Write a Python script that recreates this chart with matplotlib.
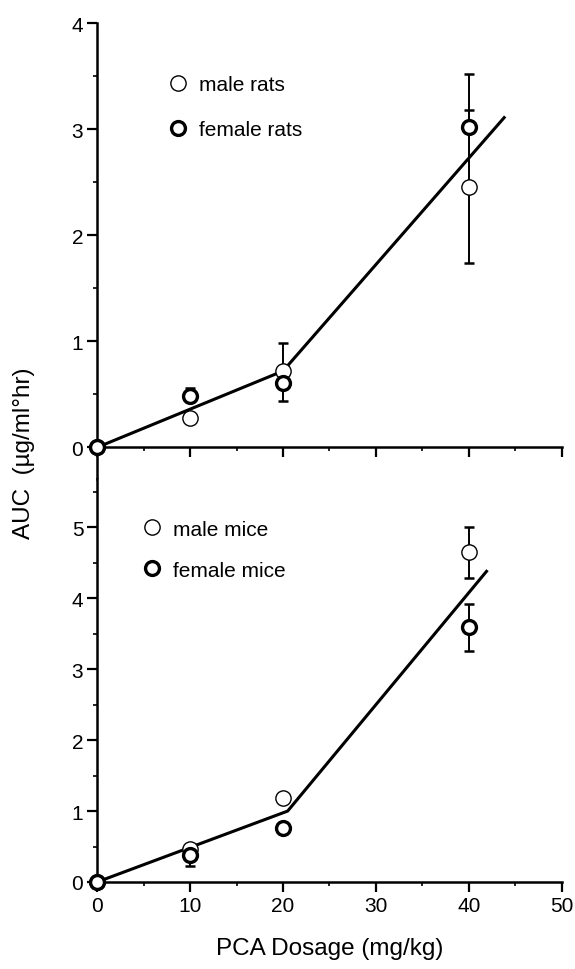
import matplotlib
matplotlib.use('Agg')
import matplotlib.pyplot as plt
from matplotlib.ticker import MultipleLocator

plt.rcParams['font.family'] = ['Liberation Sans', 'DejaVu Sans']

dose = [0, 10, 20, 40]

# rats
rat_male = [0, 0.28, 0.72, 2.46]
rat_male_lo = [0, 0, 0, 0.72]
rat_male_hi = [0, 0, 0.26, 0.72]
rat_female = [0, 0.48, 0.61, 3.02]
rat_female_lo = [0, 0, 0.17, 0]
rat_female_hi = [0, 0.08, 0, 0.50]
rat_fit_x = [0, 20, 43.8]
rat_fit_y = [0, 0.72, 3.11]

# mice
mice_male = [0, 0.47, 1.18, 4.65]
mice_male_lo = [0, 0, 0, 0.37]
mice_male_hi = [0, 0, 0, 0.35]
mice_female = [0, 0.38, 0.76, 3.59]
mice_female_lo = [0, 0.15, 0.07, 0.34]
mice_female_hi = [0, 0, 0.07, 0.33]
mice_fit_x = [0, 20.5, 41.9]
mice_fit_y = [0, 1.0, 4.38]

fig = plt.figure(figsize=(5.75, 9.7), dpi=100)
ax1 = fig.add_axes([0.169, 0.505, 0.808, 0.47])
ax2 = fig.add_axes([0.169, 0.0897, 0.808, 0.4153])


def panel(ax, male, mlo, mhi, female, flo, fhi, fx, fy, labels):
    ax.plot(fx, fy, color='black', lw=2.2, zorder=2)
    ax.errorbar(dose, male, yerr=[mlo, mhi], fmt='none', ecolor='black',
                elinewidth=1.4, capsize=3.5, capthick=1.8, zorder=3)
    ax.errorbar(dose, female, yerr=[flo, fhi], fmt='none', ecolor='black',
                elinewidth=1.4, capsize=3.5, capthick=1.8, zorder=3)
    ax.plot(dose, male, 'o', ms=11, mfc='white', mec='black', mew=1.0,
            ls='none', clip_on=False, zorder=4, label=labels[0])
    ax.plot(dose, female, 'o', ms=10, mfc='white', mec='black', mew=2.4,
            ls='none', clip_on=False, zorder=5, label=labels[1])
    ax.set_xlim(0, 50)
    ax.spines['top'].set_visible(False)
    ax.spines['right'].set_visible(False)
    ax.spines['left'].set_linewidth(1.8)
    ax.spines['bottom'].set_linewidth(1.8)
    ax.xaxis.set_major_locator(MultipleLocator(10))
    ax.xaxis.set_minor_locator(MultipleLocator(5))
    ax.yaxis.set_major_locator(MultipleLocator(1))
    ax.yaxis.set_minor_locator(MultipleLocator(0.5))
    ax.tick_params(which='major', length=7, width=1.6, labelsize=15, pad=3)
    ax.tick_params(which='minor', length=3, width=1.2)


panel(ax1, rat_male, rat_male_lo, rat_male_hi, rat_female, rat_female_lo,
      rat_female_hi, rat_fit_x, rat_fit_y, ['male rats', 'female rats'])
ax1.set_ylim(-0.3, 4)
ax1.spines['bottom'].set_position(('data', 0))
ax1.tick_params(axis='x', labelbottom=False)
ax1.legend(loc='upper left', bbox_to_anchor=(0.133, 0.904), frameon=False,
           fontsize=15, handlelength=1.0, handletextpad=0.5,
           labelspacing=1.25, borderaxespad=0)

panel(ax2, mice_male, mice_male_lo, mice_male_hi, mice_female, mice_female_lo,
      mice_female_hi, mice_fit_x, mice_fit_y, ['male mice', 'female mice'])
ax2.set_ylim(0, 5.68)
ax2.legend(loc='upper left', bbox_to_anchor=(0.078, 0.92), frameon=False,
           fontsize=15, handlelength=1.0, handletextpad=0.5,
           labelspacing=1.05, borderaxespad=0)
ax2.set_xlabel('PCA Dosage (mg/kg)', fontsize=17.5, labelpad=16)

fig.text(0.042, 0.533, 'AUC  (µg/ml°hr)', rotation=90, fontsize=17.5,
         ha='center', va='center')

plt.savefig('out.png', dpi=100)
plt.close()
